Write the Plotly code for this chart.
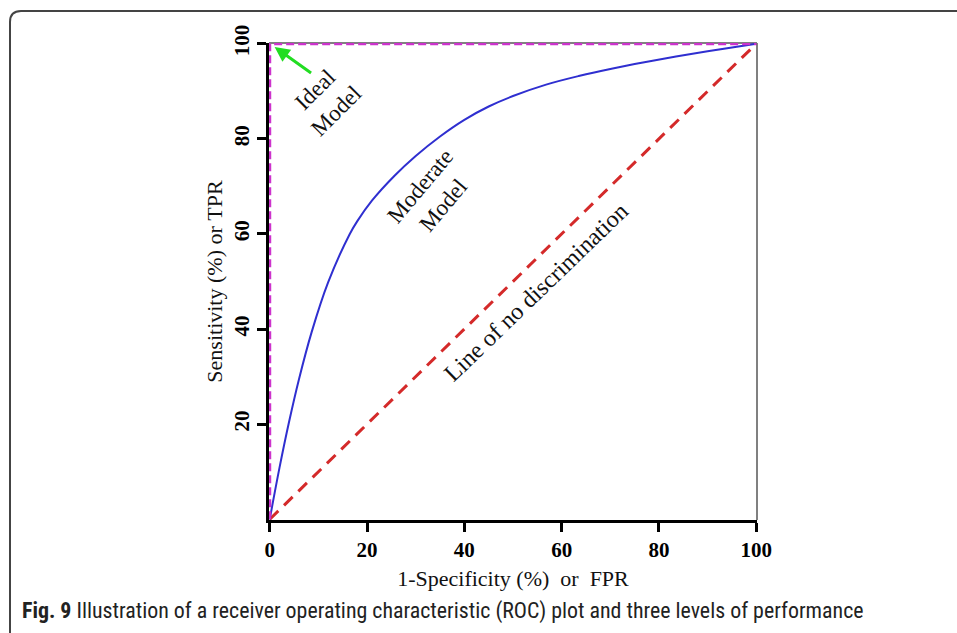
import plotly.graph_objects as go

# ---- data ----
ideal_fpr = [0, 0, 100]
ideal_tpr = [0, 100, 100]

moderate_fpr = [0, 2, 4, 6, 8.6, 12, 16.4, 18, 21, 25.7, 30, 35, 40, 45, 50, 56.8, 63.5, 70.5, 77, 83.5, 90, 95, 100]
moderate_tpr = [0, 10.8, 20.6, 29.4, 39.3, 49.8, 59.9, 62.7, 67.0, 72.3, 76.4, 80.5, 84.0, 86.8, 89.0, 91.4, 93.2, 94.8, 96.1, 97.3, 98.4, 99.2, 100]

chance_fpr = [0, 100]
chance_tpr = [0, 100]

x_ticks = [0, 20, 40, 60, 80, 100]
y_ticks = [20, 40, 60, 80, 100]

SERIF = "Liberation Serif, Times New Roman, serif"

fig = go.Figure()
fig.add_trace(go.Scatter(x=chance_fpr, y=chance_tpr, mode="lines",
                         line=dict(color="#d42a2a", width=3, dash="12px,8px"),
                         hoverinfo="skip"))
fig.add_trace(go.Scatter(x=moderate_fpr, y=moderate_tpr, mode="lines",
                         line=dict(color="#2f2fd0", width=2, shape="spline", smoothing=1),
                         hoverinfo="skip"))
fig.add_trace(go.Scatter(x=ideal_fpr, y=ideal_tpr, mode="lines",
                         line=dict(color="#cc33cc", width=3, dash="8px,4px"),
                         hoverinfo="skip"))

W, H = 957, 633
L, R, T, B = 269, 200, 43, 113
pw, ph = W - L - R, H - T - B

def px(x):
    return (x - L) / pw

def py(y):
    return (H - B - y) / ph

shapes = [
    # gray top and right frame of plot box
    dict(type="line", xref="paper", yref="paper", x0=0, x1=1, y0=1, y1=1,
         line=dict(color="#808080", width=2), layer="below"),
    dict(type="line", xref="paper", yref="paper", x0=1, x1=1, y0=0, y1=1,
         line=dict(color="#808080", width=2), layer="below"),
    # outer rounded figure frame
    dict(type="path", xref="paper", yref="paper",
         path=f"M {px(10)} {py(640)} L {px(10)} {py(22)} Q {px(10)} {py(11)} {px(21)} {py(11)} L {px(965)} {py(11)}",
         line=dict(color="#444444", width=2)),
]

annotations = [
    dict(x=1.0, y=99.3, ax=8.8, ay=93.6, xref="x", yref="y", axref="x", ayref="y",
         text="", showarrow=True, arrowhead=2, arrowsize=1, arrowwidth=3,
         arrowcolor="#22dd22"),
    dict(x=11.5, y=88.0, xref="x", yref="y", text="Ideal<br>Model", showarrow=False,
         textangle=-45, font=dict(family=SERIF, size=23, color="#111111")),
    dict(x=33.4, y=68.0, xref="x", yref="y", text="Moderate<br>Model", showarrow=False,
         textangle=-50, font=dict(family=SERIF, size=23, color="#111111")),
    dict(x=54.8, y=47.7, xref="x", yref="y", text="Line of no discrimination",
         showarrow=False, textangle=-44,
         font=dict(family=SERIF, size=24, color="#111111")),
    dict(x=px(20), y=py(611), xref="paper", yref="paper", xanchor="left", yanchor="middle",
         text="<b>Fig. 9</b> Illustration of a receiver operating characteristic (ROC) plot and three levels of performance",
         showarrow=False,
         font=dict(family="Liberation Sans Narrow, Roboto Condensed, Roboto, sans-serif",
                   size=21.9, color="#222222")),
]

fig.update_layout(
    width=W, height=H,
    margin=dict(l=L, r=R, t=T, b=B, pad=0),
    paper_bgcolor="white", plot_bgcolor="white",
    showlegend=False,
    shapes=shapes,
    annotations=annotations,
    xaxis=dict(range=[-0.15, 100.15], tickvals=x_ticks, ticktext=[str(v) for v in x_ticks],
               showgrid=False, zeroline=False, showline=True, linecolor="black", linewidth=3,
               ticks="outside", ticklen=9, tickwidth=3, tickcolor="black",
               tickfont=dict(family=SERIF, size=21, color="black", weight="bold"),
               title=dict(text="1-Specificity\u00a0(%)\u00a0\u00a0or\u00a0\u00a0FPR", standoff=10,
                          font=dict(family=SERIF, size=22, color="#111111"))),
    yaxis=dict(range=[-0.15, 100.15], tickvals=y_ticks, ticktext=[str(v) for v in y_ticks],
               showgrid=False, zeroline=False, showline=True, linecolor="black", linewidth=3,
               ticks="outside", ticklen=9, tickwidth=3, tickcolor="black", tickangle=-90,
               tickfont=dict(family=SERIF, size=21, color="black", weight="bold"),
               title=dict(text="Sensitivity\u00a0(%)\u00a0or\u00a0TPR", standoff=1,
                          font=dict(family=SERIF, size=22, color="#111111"))),
)

fig.write_html("out.html", config={"displayModeBar": False},
               post_script="document.body.style.margin='0';")
